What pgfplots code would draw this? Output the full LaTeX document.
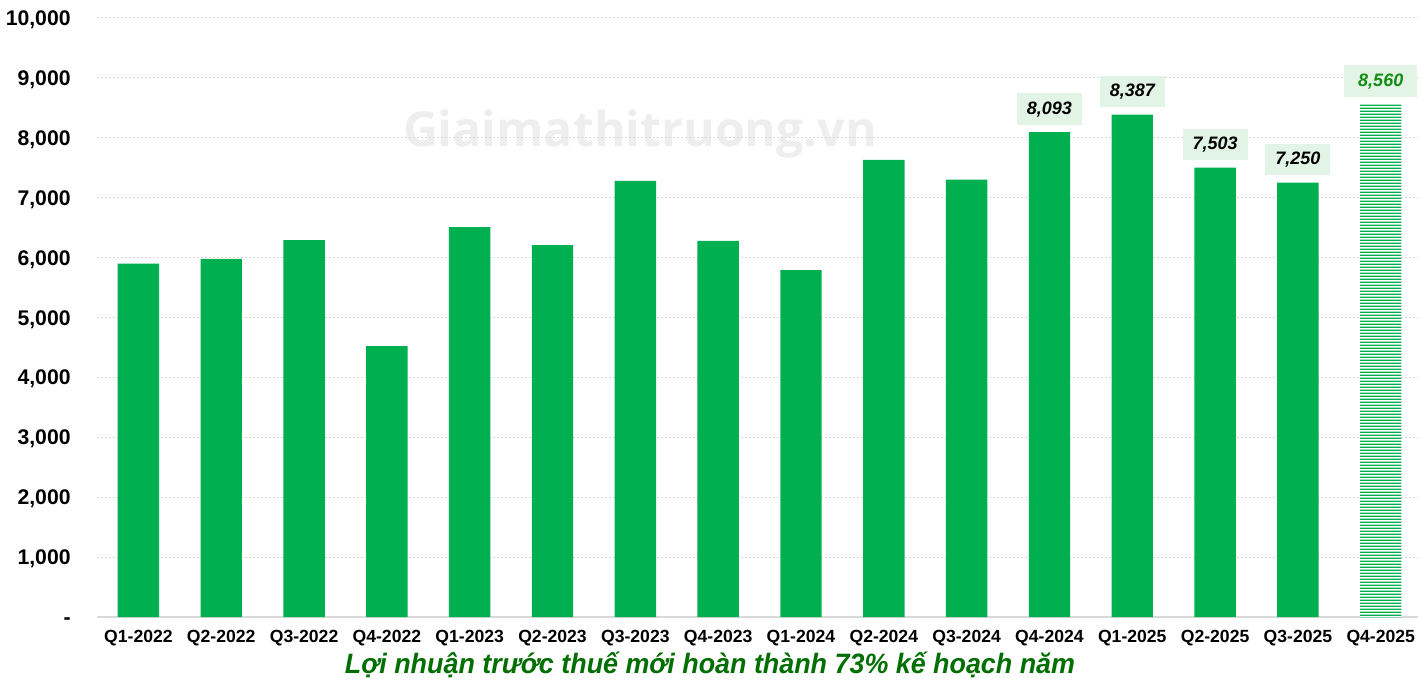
\documentclass[border=0pt]{standalone}
\usepackage{fontspec}
\setmainfont{Liberation Sans}
\newfontfamily\wmfont{Open Sans}
\usepackage{pgfplots}
\pgfplotsset{compat=1.18}
\usetikzlibrary{patterns}

\definecolor{barg}{RGB}{0,176,80}
\definecolor{labbg}{RGB}{226,244,229}
\definecolor{titleg}{RGB}{0,110,0}
\definecolor{lastg}{RGB}{20,140,20}
\definecolor{gridc}{RGB}{217,217,217}
\definecolor{wm}{RGB}{238,238,238}

\pgfdeclarepatternformonly{stripes}{\pgfpointorigin}{\pgfpoint{60pt}{1.7pt}}{\pgfpoint{60pt}{1.7pt}}%
  {\pgfpathrectangle{\pgfpointorigin}{\pgfpoint{60pt}{0.85pt}}\pgfusepath{fill}}

\begin{document}
\begin{tikzpicture}
% watermark, behind everything
\node[anchor=base, text=wm, inner sep=0pt] at (271.5pt,235pt)
  {\resizebox{237pt}{!}{\wmfont\bfseries Giaimathitruong.vn}};

\begin{axis}[
    scale only axis,
    width=660.5pt, height=299.5pt,
    xmin=-0.5, xmax=15.45,
    ymin=0, ymax=10000,
    axis line style={draw=none},
    major tick length=0pt,
    scaled y ticks=false,
    ytick={0,1000,...,10000},
    yticklabels={{-\hspace{5pt}},{1,000},{2,000},{3,000},{4,000},{5,000},{6,000},{7,000},{8,000},{9,000},{10,000}},
    yticklabel style={font=\fontsize{10.6}{12}\selectfont\bfseries, anchor=base east, inner sep=0pt, xshift=-13pt, yshift=-3.8pt},
    xtick={0,...,15},
    xticklabels={Q1-2022,Q2-2022,Q3-2022,Q4-2022,Q1-2023,Q2-2023,Q3-2023,Q4-2023,Q1-2024,Q2-2024,Q3-2024,Q4-2024,Q1-2025,Q2-2025,Q3-2025,Q4-2025},
    xticklabel style={font=\fontsize{8.8}{10}\selectfont\bfseries, anchor=north, inner sep=0pt, yshift=-6.5pt},
    ymajorgrids,
    grid style={gridc, line width=0.5pt, dash pattern=on 1pt off 1pt},
    extra y ticks={0},
    extra y tick labels={},
    extra y tick style={grid style={solid, gridc, line width=1pt}},
    /pgf/number format/assume math mode=true,
    /pgf/number format/1000 sep={,},
    ybar, bar width=0.5, bar shift=0pt,
    every node near coord/.append style={font=\fontsize{9}{10}\selectfont\bfseries\itshape,
        fill=labbg, inner xsep=5pt, inner ysep=4pt, anchor=south, yshift=3.5pt},
]
\addplot[fill=barg, draw=none] coordinates {
    (0,5900) (1,5980) (2,6290) (3,4520) (4,6510) (5,6210)
    (6,7280) (7,6280) (8,5790) (9,7630) (10,7300)
};
\addplot[fill=barg, draw=none, nodes near coords] coordinates {
    (11,8093) (12,8387) (13,7503) (14,7250)
};
\addplot[fill=white, draw=none, postaction={pattern=stripes, pattern color=barg},
    nodes near coords, every node near coord/.append style={text=lastg, inner xsep=7pt}] coordinates {
    (15,8560)
};
\end{axis}

\node[anchor=base, text=titleg, inner sep=0pt] at (306.5pt,-28pt)
  {\resizebox{365pt}{\height}{\fontsize{14}{16}\selectfont\bfseries\itshape Lợi nhuận trước thuế mới hoàn thành 73\% kế hoạch năm}};

\pgfresetboundingbox
\useasboundingbox (-48.5pt,-36.5pt) rectangle (662.5pt,308.5pt);
\end{tikzpicture}
\end{document}
